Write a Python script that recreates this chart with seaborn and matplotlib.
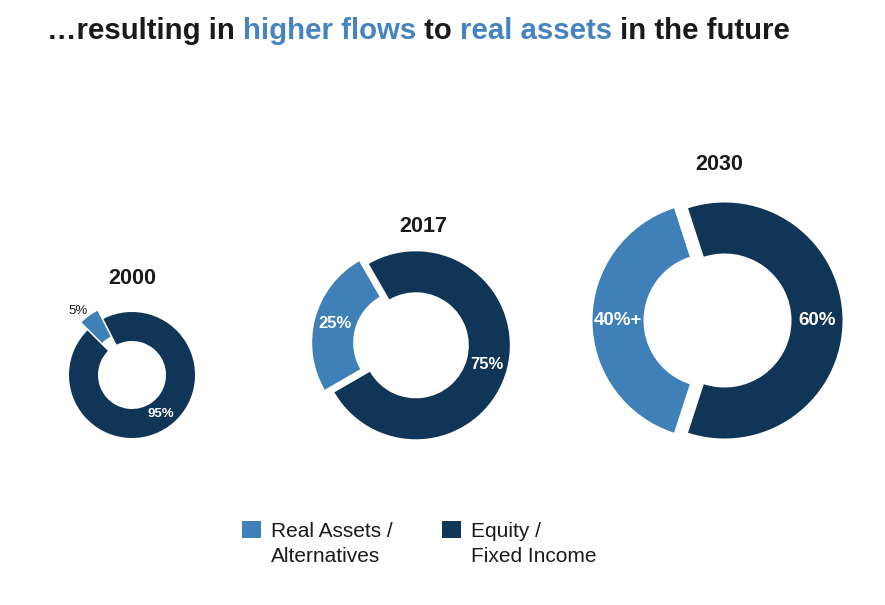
import numpy as np
import matplotlib.pyplot as plt
import seaborn as sns
from matplotlib.patches import Rectangle

# data
years = ['2000', '2017', '2030']
real_assets = [5, 25, 40]
equity = [95, 75, 60]
real_labels = ['5%', '25%', '40%+']
equity_labels = ['95%', '75%', '60%']
legend_labels = [['Real Assets /', 'Alternatives'], ['Equity /', 'Fixed Income']]

light = '#4080b8'
dark = '#113557'
title_blue = '#4584c0'
ink = '#1a1a1a'

sns.set_theme(style='white')
plt.rcParams['font.family'] = ['Liberation Sans', 'DejaVu Sans']

W, H = 885, 605
fig = plt.figure(figsize=(W / 100, H / 100), dpi=100)
ax = fig.add_axes([0, 0, 1, 1])

# layout in pixels (y measured from the top of the picture)
centers = [(132, 375), (411, 344), (717.5, 320.5)]
radii = [63, 94, 118]
rings = [29, 41, 51]
starts = [117, 120, 108]
explodes = [(10, 0), (5, 5), (7, 7)]
pct_sizes = [9.5, 12, 13.5]
year_pos = [(132, 278), (423, 227), (719, 165)]

for i in range(len(years)):
    cx, cy = centers[i]
    wedges, _ = ax.pie([real_assets[i], equity[i]], colors=[light, dark],
                       startangle=starts[i], counterclock=True, radius=radii[i],
                       center=(cx, H - cy), explode=explodes[i],
                       wedgeprops=dict(width=rings[i], linewidth=0))
    for j, (w, lab) in enumerate(zip(wedges, [real_labels[i], equity_labels[i]])):
        th = np.deg2rad((w.theta1 + w.theta2) / 2)
        if i == 0 and j == 0:
            # small slice: label sits outside, a bit to the left
            r = w.r + 11
            th += np.deg2rad(5)
            ax.text(w.center[0] + r * np.cos(th), w.center[1] + r * np.sin(th), lab,
                    ha='center', va='center', fontsize=pct_sizes[i], color=ink)
        else:
            r = w.r - w.width / 2
            ax.text(w.center[0] + r * np.cos(th), w.center[1] + r * np.sin(th), lab,
                    ha='center', va='center', fontsize=pct_sizes[i],
                    fontweight='bold', color='white')
    ax.text(year_pos[i][0], H - year_pos[i][1], years[i], ha='center', va='center',
            fontsize=15.5, fontweight='bold', color=ink)

ax.set_xlim(0, W)
ax.set_ylim(0, H)
ax.set_aspect('equal')
ax.axis('off')

# legend
for k, (lines, col) in enumerate(zip(legend_labels, [light, dark])):
    x0 = 242 + k * 200
    ax.add_patch(Rectangle((x0, H - 538), 19, 17, color=col, lw=0))
    for n, line in enumerate(lines):
        ax.text(x0 + 29, H - 537 - 25 * n, line, ha='left', va='baseline',
                fontsize=15, color=ink)

# title with coloured words
parts = [('\u2026resulting in ', ink), ('higher flows', title_blue), (' to ', ink),
         ('real assets', title_blue), (' in the future', ink)]
fig.canvas.draw()
rend = fig.canvas.get_renderer()
x = 47
for s, c in parts:
    t = ax.text(x, H - 39, s, ha='left', va='baseline', fontsize=21.2,
                fontweight='bold', color=c)
    x += t.get_window_extent(renderer=rend).width

fig.savefig('out.png', dpi=100)
